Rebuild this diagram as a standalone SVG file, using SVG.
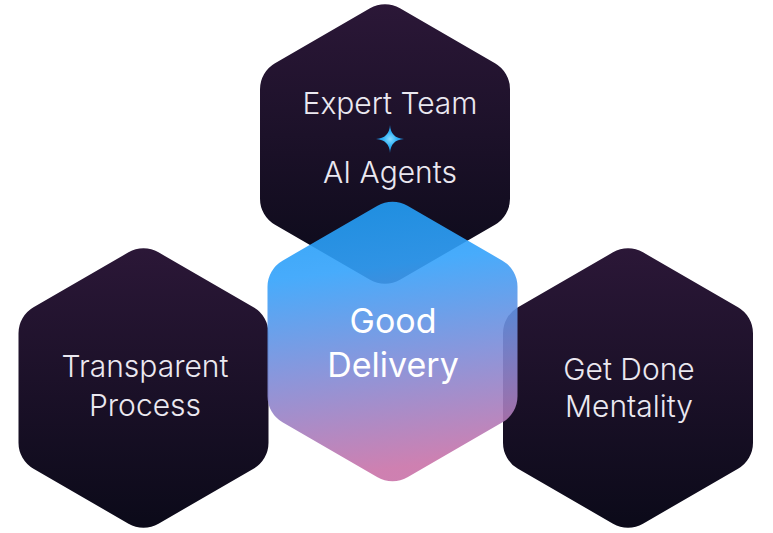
<svg xmlns="http://www.w3.org/2000/svg" width="773" height="533" viewBox="0 0 773 533">
<style>
.lbl{font-family:Inter,"Noto Sans","Liberation Sans",sans-serif;font-size:30px;fill:#ebe8f0;text-anchor:middle;font-weight:300}
.main{font-family:Inter,"Noto Sans","Liberation Sans",sans-serif;font-size:34px;fill:#ffffff;text-anchor:middle;font-weight:400}
.dark{fill:url(#gDark)}
.center{fill:url(#gCenter);opacity:0.9}
</style>
<defs>
<linearGradient id="gDark" x1="0" y1="0" x2="0" y2="1">
<stop offset="0" stop-color="#2b1737"/>
<stop offset="1" stop-color="#0b0a19"/>
</linearGradient>
<linearGradient id="gCenter" x1="0" y1="0" x2="0.12" y2="1">
<stop offset="0" stop-color="#1d9cf4"/>
<stop offset="0.28" stop-color="#33a2fb"/>
<stop offset="0.62" stop-color="#7c8bd8"/>
<stop offset="1" stop-color="#c972a8"/>
</linearGradient>
<radialGradient id="gStar" cx="0.5" cy="0.5" r="0.5">
<stop offset="0" stop-color="#8adcff"/>
<stop offset="0.5" stop-color="#2cb0f6"/>
<stop offset="1" stop-color="#1a7fd0"/>
</radialGradient>
<path id="hex" d="M-15,-135.68 A30,30 0 0 1 15,-135.68 L110,-80.83 A30,30 0 0 1 125,-54.85 L125,54.85 A30,30 0 0 1 110,80.83 L15,135.68 A30,30 0 0 1 -15,135.68 L-110,80.83 A30,30 0 0 1 -125,54.85 L-125,-54.85 A30,30 0 0 1 -110,-80.83 Z"/>
</defs>
<g id="top-node">
<use href="#hex" class="dark" transform="translate(385,144)"/>
<text class="lbl" x="390" y="114">Expert Team</text>
<path d="M390,125 Q390.8,138.2 404,139 Q390.8,139.8 390,153 Q389.2,139.8 376,139 Q389.2,138.2 390,125 Z" fill="url(#gStar)"/>
<text class="lbl" x="390" y="183">AI Agents</text>
</g>
<g id="left-node">
<use href="#hex" class="dark" transform="translate(143.5,388)"/>
<text class="lbl" x="145" y="377">Transparent</text>
<text class="lbl" x="145" y="416">Process</text>
</g>
<g id="right-node">
<use href="#hex" class="dark" transform="translate(628,388)"/>
<text class="lbl" x="629" y="380">Get Done</text>
<text class="lbl" x="629" y="417">Mentality</text>
</g>
<g id="center-node">
<use href="#hex" class="center" transform="translate(392.5,341.5)"/>
<text class="main" x="393" y="333">Good</text>
<text class="main" x="393" y="377">Delivery</text>
</g>
<g id="connectors"/>
</svg>
